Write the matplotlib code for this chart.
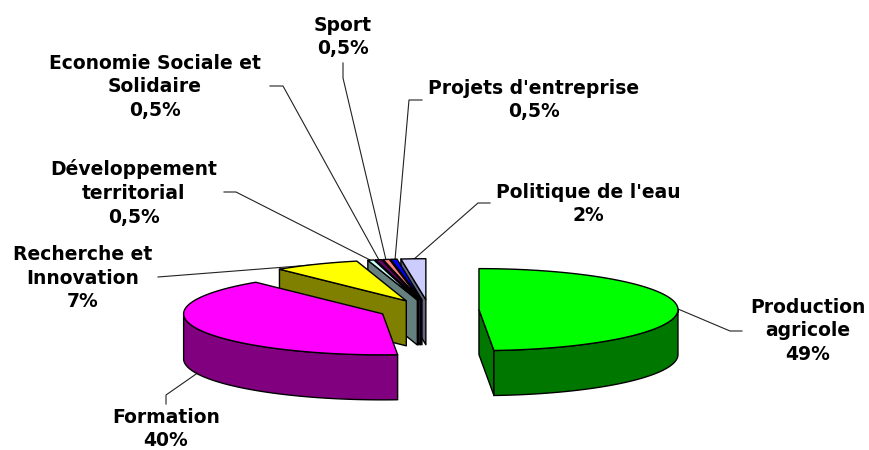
import numpy as np
import matplotlib
matplotlib.use("Agg")
import matplotlib.pyplot as plt
from matplotlib.patches import Polygon

labels = ["Production\nagricole\n49%", "Formation\n40%", "Recherche et\nInnovation\n7%",
          "Développement\nterritorial\n0,5%", "Economie Sociale et\nSolidaire\n0,5%",
          "Sport\n0,5%", "Projets d'entreprise\n0,5%", "Politique de l'eau\n2%"]
values = [48.8, 40.2, 7, 0.5, 0.5, 0.5, 0.5, 2]
top_colors = ["#00FF00", "#FF00FF", "#FFFF00", "#CCFFFF", "#660066", "#FF8080", "#0000FF", "#CCCCFF"]
side_colors = ["#007800", "#800080", "#808000", "#668080", "#330033", "#804040", "#000080", "#666680"]

label_xy = [(808, 331), (166, 429), (83, 278), (134, 193), (155, 87), (343, 37), (534, 100), (588, 204)]
leaders = [
    [(678, 309), (730, 331), (742, 331)],
    [(199, 372), (166, 395), (166, 404)],
    [(158, 277), (350, 262)],
    [(224, 192), (236, 192), (370, 260)],
    [(270, 86), (283, 86), (379, 260)],
    [(343, 63), (343, 78), (386, 260)],
    [(422, 100), (409, 100), (395, 260)],
    [(490, 203), (478, 203), (413, 260)],
]

CX, CY = 429, 310
RX, RY = 199, 41
DEPTH = 45
EXPLODE = 50


def point(cx, cy, angle):
    a = np.radians(angle)
    return cx + RX * np.sin(a), cy - RY * np.cos(a)


def arc(cx, cy, a0, a1):
    angles = np.linspace(a0, a1, max(int(abs(a1 - a0)), 2))
    return [point(cx, cy, a) for a in angles]


fig = plt.figure(figsize=(8.69, 4.5), dpi=100)
ax = fig.add_axes([0, 0, 1, 1])
ax.set_xlim(0, 869)
ax.set_ylim(450, 0)
ax.axis("off")

edges = np.cumsum([0] + values) * 3.6

for xs in leaders:
    ax.plot(*zip(*xs), color="#222222", lw=0.8, zorder=1)

# back to front, the small slices first
z = 2
for i in range(len(values) - 1, -1, -1):
    a0, a1 = edges[i], edges[i + 1]
    mid = np.radians((a0 + a1) / 2)
    cx = CX + EXPLODE * np.sin(mid)
    cy = CY - EXPLODE * RY / RX * np.cos(mid)
    style = dict(edgecolor="black", lw=1.0, joinstyle="round")

    # cut faces that turn towards the viewer
    for a in (a0, a1):
        visible = np.sin(np.radians(a)) < -1e-6 if a == a0 else np.sin(np.radians(a)) > 1e-6
        if visible:
            px, py = point(cx, cy, a)
            face = [(cx, cy), (px, py), (px, py + DEPTH), (cx, cy + DEPTH)]
            ax.add_patch(Polygon(face, facecolor=side_colors[i], zorder=z, **style))
            z += 1

    # outer wall, front half of the rim only
    lo, hi = max(a0, 90), min(a1, 270)
    if lo < hi:
        rim = arc(cx, cy, lo, hi)
        wall = rim + [(x, y + DEPTH) for x, y in rim[::-1]]
        ax.add_patch(Polygon(wall, facecolor=side_colors[i], zorder=z, **style))
        z += 1

    top = [(cx, cy)] + arc(cx, cy, a0, a1)
    ax.add_patch(Polygon(top, facecolor=top_colors[i], zorder=z, **style))
    z += 1

for text, (x, y) in zip(labels, label_xy):
    ax.text(x, y, text, ha="center", va="center", family="DejaVu Sans",
            fontweight="bold", fontsize=13.5, linespacing=1.31, zorder=z)

fig.savefig("out.png", dpi=100)
